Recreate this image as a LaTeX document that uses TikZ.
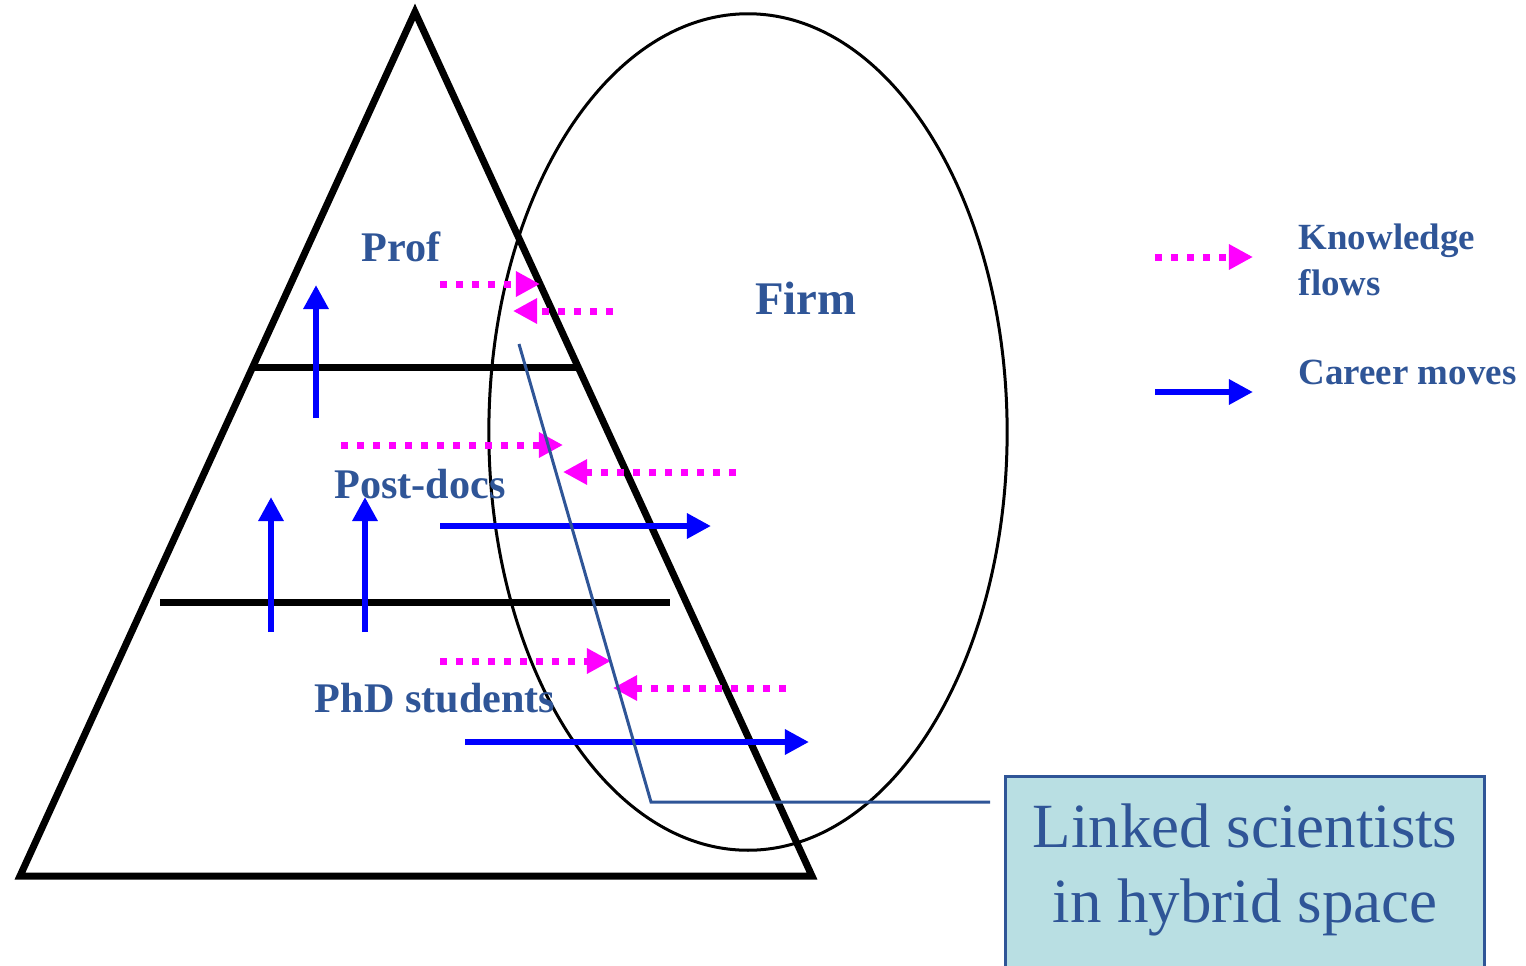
\documentclass[tikz,border=0pt]{standalone}
\usepackage{fontspec}
\setmainfont{Liberation Serif}
\usetikzlibrary{arrows.meta}
\definecolor{textoAzul}{HTML}{2F5597}
\definecolor{flujoRosa}{HTML}{FF00FF}
\definecolor{carreraAzul}{HTML}{0000FF}
\definecolor{cajaFondo}{HTML}{B9DFE3}
\tikzset{
  piramide/.style={line width=0.07cm, line join=miter},
  nivel/.style={line width=0.07cm},
  firma/.style={line width=0.03cm},
  etiqueta/.style={text=textoAzul, font=\fontsize{12}{14}\selectfont\bfseries, inner sep=0pt},
  leyenda/.style={text=textoAzul, font=\fontsize{10.5}{13}\selectfont\bfseries,
    anchor=west, align=left, inner sep=0pt},
  flujo/.style={-{Triangle[length=0.24cm, width=0.24cm]}, flujoRosa,
    line width=0.07cm, dash pattern=on 0.07cm off 0.09cm},
  carrera/.style={-{Triangle[length=0.24cm, width=0.24cm]}, carreraAzul,
    line width=0.065cm},
  guia/.style={draw=textoAzul, line width=0.03cm},
  caja/.style={draw=textoAzul, line width=0.03cm, fill=cajaFondo,
    minimum width=4.78cm, minimum height=2.4cm, anchor=north},
}
\begin{document}
\begin{tikzpicture}[x=0.01cm, y=-0.01cm]
  \useasboundingbox (0,0) rectangle (1526,966);

  % piramide y empresa
  \coordinate (cima)    at (415,12);
  \coordinate (baseIzq) at (20,876);
  \coordinate (baseDer) at (812,876);
  \draw[piramide] (cima) -- (baseIzq) -- (baseDer) -- cycle;
  \coordinate (n1a) at (254,367);
  \coordinate (n1b) at (577,367);
  \coordinate (n2a) at (160,602);
  \coordinate (n2b) at (670,602);
  \draw[nivel] (n1a) -- (n1b);
  \draw[nivel] (n2a) -- (n2b);
  \draw[firma] (748,432) ellipse [x radius=2.59cm, y radius=4.18cm];

  \node[etiqueta] (prof) at (401,247) {Prof};
  \node[etiqueta] (post) at (420,484) {Post-docs};
  \node[etiqueta] (phd)  at (435,698) {PhD students};
  \node[etiqueta, font=\fontsize{13.3}{15}\selectfont\bfseries] (firm) at (806,298) {Firm};

  % flujos de conocimiento
  \coordinate (f1a) at (440,284); \coordinate (f1b) at (540,284);
  \coordinate (f2a) at (613,311); \coordinate (f2b) at (513,311);
  \coordinate (f3a) at (341,445); \coordinate (f3b) at (563,445);
  \coordinate (f4a) at (736,472); \coordinate (f4b) at (563,472);
  \coordinate (f5a) at (440,661); \coordinate (f5b) at (611,661);
  \coordinate (f6a) at (786,688); \coordinate (f6b) at (613,688);
  \foreach \i in {1,...,6}
    \draw[flujo] (f\i a) -- (f\i b);

  % movimientos de carrera
  \coordinate (c1a) at (316,418); \coordinate (c1b) at (316,285);
  \coordinate (c2a) at (271,632); \coordinate (c2b) at (271,497);
  \coordinate (c3a) at (365,632); \coordinate (c3b) at (365,497);
  \coordinate (c4a) at (440,526); \coordinate (c4b) at (711,526);
  \coordinate (c5a) at (465,742); \coordinate (c5b) at (809,742);
  \foreach \i in {1,...,5}
    \draw[carrera] (c\i a) -- (c\i b);

  % leyenda
  \coordinate (lf1) at (1155,257); \coordinate (lf2) at (1253,257);
  \coordinate (lc1) at (1155,392); \coordinate (lc2) at (1253,392);
  \draw[flujo] (lf1) -- (lf2);
  \draw[carrera] (lc1) -- (lc2);
  \node[leyenda] (legFlujo) at (1298,260) {Knowledge\\flows};
  \node[leyenda] (legCarrera) at (1298,372) {Career moves};

  % cientificos vinculados
  \node[caja] (hibrido) at (1245,775) {};
  \node[text=textoAzul, align=center, inner sep=0pt,
        font=\fontsize{17.9}{21.5}\selectfont] (hibridoTxt) at (1245,870)
        {Linked scientists\\in hybrid space};
  \coordinate (guiaIni) at (519,344);
  \coordinate (guiaCodo) at (651,802);
  \coordinate (guiaFin) at (990,802);
  \draw[guia] (guiaIni) -- (guiaCodo) -- (guiaFin);
\end{tikzpicture}
\end{document}
